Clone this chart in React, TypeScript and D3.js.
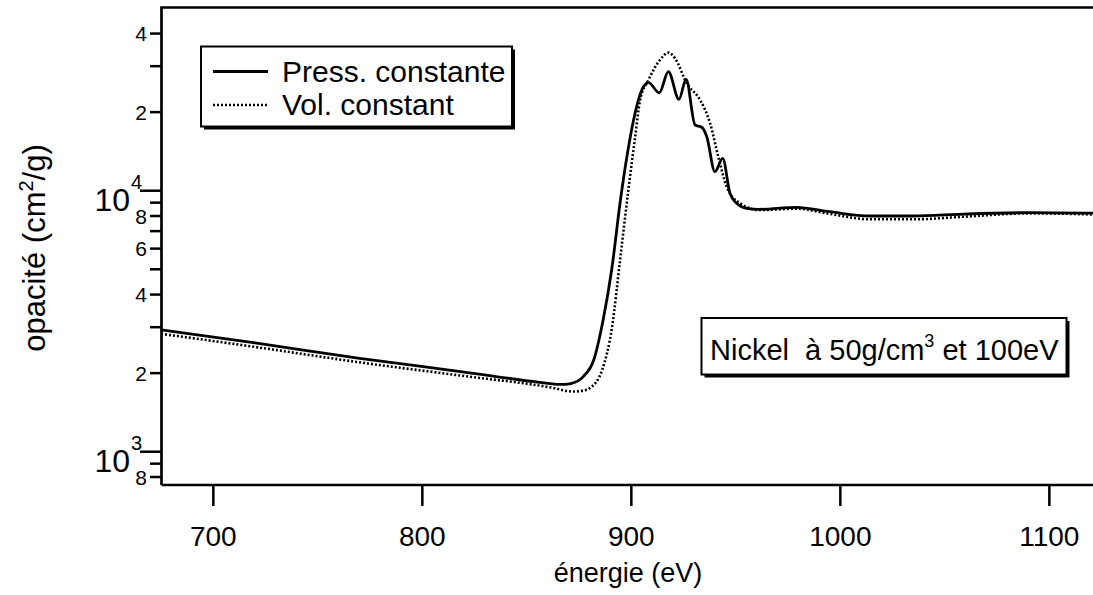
import React from 'react';
import * as d3 from 'd3';

// Press. constante (solid)
const energyPress = [675, 720, 770, 820, 856, 866, 871, 877, 882, 886.5, 890.8, 894.6, 898.4, 901.8, 905, 908.2, 913.4, 917.7, 922.8, 926.2, 930.5, 933.7, 936.1, 940, 943.7, 947.2, 950.4, 955.2, 961, 979, 995, 1014, 1035, 1059, 1091, 1125];
const opacityPress = [2930, 2610, 2280, 2020, 1845, 1810, 1825, 1940, 2245, 3196, 5114, 8973, 14320, 19850, 24300, 25930, 23730, 28570, 22400, 26720, 17850, 17500, 16100, 11830, 13310, 9770, 8950, 8560, 8485, 8640, 8310, 8000, 8000, 8140, 8240, 8190];

// Vol. constant (dotted)
const energyVol = [675, 720, 770, 820, 862, 872, 877, 880.2, 886, 890.8, 894.6, 898.4, 901.8, 904.2, 908.2, 913.7, 917.7, 920.9, 926.5, 932.9, 937.7, 941.6, 945.6, 952, 961.6, 979, 995, 1014, 1035, 1059, 1091, 1125];
const opacityVol = [2830, 2520, 2200, 1950, 1760, 1700, 1715, 1754, 2056, 3013, 5425, 9800, 16060, 22260, 26560, 31680, 33800, 32150, 25790, 22260, 18120, 13500, 10360, 8950, 8430, 8530, 8150, 7770, 7770, 7950, 8190, 8090];

const xTicks = [700, 800, 900, 1000, 1100];
const yDecades = [1000, 10000];
const yDecadeExp = ['3', '4'];
const yMinorLabeled = [800, 2000, 4000, 6000, 8000, 20000, 40000];
const yMinorLabels = ['8', '2', '4', '6', '8', '2', '4'];
const yMinorPlain = [900, 3000, 5000, 7000, 9000, 30000];

const W = 1093;
const H = 595;
const FONT = '"Liberation Sans", Arial, Helvetica, sans-serif';

const App: React.FC = () => {
  const left = 161.5, right = 1101.6, top = 7.5, bottom = 485;
  const x = d3.scaleLinear().domain([675.2, 1125]).range([left, right]);
  const y = d3.scaleLog().domain([745.6, 50340]).range([bottom, top]);

  const toPts = (es: number[], vs: number[]) => es.map((e, i) => [e, vs[i]] as [number, number]);
  const line = d3.line<[number, number]>()
    .x(d => x(d[0]))
    .y(d => y(d[1]))
    .curve(d3.curveMonotoneX);

  const pressPath = line(toPts(energyPress, opacityPress)) || '';
  const volPath = line(toPts(energyVol, opacityVol)) || '';

  return (
    <div style={{ position: 'absolute', left: 0, top: 0, width: W, height: H, background: '#fff' }}>
      <svg width={W} height={H} style={{ display: 'block', fontFamily: FONT }}>
        <rect width={W} height={H} fill="#fff" />
        <defs>
          <clipPath id="plot">
            <rect x={left} y={top} width={right - left} height={bottom - top} />
          </clipPath>
        </defs>

        {/* curves */}
        <g clipPath="url(#plot)" fill="none" stroke="#000">
          <path d={volPath} strokeWidth={2.6} strokeDasharray="2,2" />
          <path d={pressPath} strokeWidth={2.8} />
        </g>

        {/* frame */}
        <path d={`M${left},${bottom}V${top}H${W + 5}`} fill="none" stroke="#000" strokeWidth={2.7} />
        <line x1={left} x2={W + 5} y1={bottom} y2={bottom} stroke="#000" strokeWidth={2.7} />

        {/* x axis */}
        {xTicks.map(t => (
          <g key={t}>
            <line x1={x(t)} x2={x(t)} y1={bottom} y2={bottom + 21} stroke="#000" strokeWidth={2.5} />
            <text x={x(t)} y={546} fontSize={28} textAnchor="middle">{t}</text>
          </g>
        ))}
        <text x={628} y={582} fontSize={27} textAnchor="middle">énergie (eV)</text>

        {/* y axis */}
        {yDecades.map((t, i) => (
          <g key={t}>
            <line x1={140} x2={left} y1={y(t)} y2={y(t)} stroke="#000" strokeWidth={2.5} />
            <text x={130} y={y(t) + 20} fontSize={32} textAnchor="end">10</text>
            <text x={131} y={y(t) - 2} fontSize={20}>{yDecadeExp[i]}</text>
          </g>
        ))}
        {yMinorLabeled.map((t, i) => (
          <g key={t}>
            <line x1={150} x2={left} y1={y(t)} y2={y(t)} stroke="#000" strokeWidth={2.5} />
            <text x={147} y={y(t)} dy="0.36em" fontSize={21} textAnchor="end">{yMinorLabels[i]}</text>
          </g>
        ))}
        {yMinorPlain.map(t => (
          <line key={t} x1={150} x2={left} y1={y(t)} y2={y(t)} stroke="#000" strokeWidth={2.5} />
        ))}
        <text transform="translate(45,248) rotate(-90)" fontSize={31} textAnchor="middle">
          opacité (cm<tspan dy={-12} fontSize={20}>2</tspan><tspan dy={12}>/g)</tspan>
        </text>

        {/* legend */}
        <rect x={204} y={49.5} width={311} height={80} fill="#000" />
        <rect x={201} y={46.5} width={311} height={80} fill="#fff" stroke="#000" strokeWidth={2} />
        <line x1={213} x2={268} y1={71.5} y2={71.5} stroke="#000" strokeWidth={2.8} />
        <line x1={213} x2={268} y1={105} y2={105} stroke="#000" strokeWidth={2.6} strokeDasharray="2,2" />
        <text x={282} y={82} fontSize={30}>Press. constante</text>
        <text x={282} y={115} fontSize={30}>Vol. constant</text>

        {/* annotation */}
        <rect x={704.5} y={321} width={365} height={56.5} fill="#000" />
        <rect x={701.5} y={318} width={365} height={56.5} fill="#fff" stroke="#000" strokeWidth={2} />
        <text x={710} y={360} fontSize={29} style={{ whiteSpace: 'pre' }}>
          {'Nickel  à 50g/cm'}<tspan dy={-13} fontSize={18}>3</tspan><tspan dy={13}>{' et 100eV'}</tspan>
        </text>
      </svg>
    </div>
  );
};

export default App;
